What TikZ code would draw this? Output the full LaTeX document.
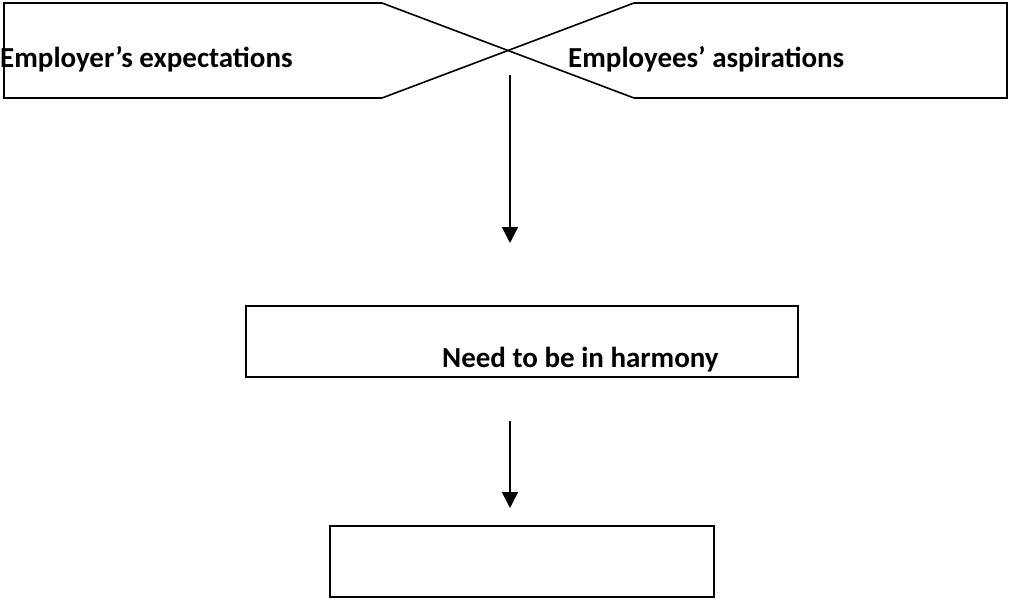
\documentclass[tikz,border=0pt]{standalone}
\usepackage{fontspec}
\setmainfont{Carlito}
\usetikzlibrary{arrows.meta}
\begin{document}
\begin{tikzpicture}[x=1pt,y=-1pt,
  outline/.style={draw=black,line width=1.6pt,line join=miter},
  label/.style={font=\bfseries\fontsize{29}{34}\selectfont,inner sep=0pt,anchor=base west},
  flowarrow/.style={draw=black,line width=1.6pt,-{Triangle[length=16pt,width=16pt]}}
]
\useasboundingbox (0,0) rectangle (1016,599);

% the two crossing banner shapes at the top
\coordinate (lt) at (382,3);
\coordinate (lb) at (382,98);
\coordinate (rt) at (634,3);
\coordinate (rb) at (634,98);
\draw[outline] (lt) -- (4,3) -- (4,98) -- (lb);
\draw[outline] (rt) -- (1007,3) -- (1007,98) -- (rb);
\draw[outline] (lt) -- (rb);
\draw[outline] (lb) -- (rt);
\node[label] (employer) at (0,68) {Employer’s expectations};
\node[label] (employees) at (568,68) {Employees’ aspirations};

% middle box
\node[outline,minimum width=552pt,minimum height=71pt,inner sep=0pt] (harmonybox) at (522,341.5) {};
\node[label] (harmony) at (442,367) {Need to be in harmony};

% bottom box
\node[outline,minimum width=384pt,minimum height=71pt,inner sep=0pt] (resultbox) at (522,561.5) {};

% connectors
\coordinate (a1s) at (510,75);
\coordinate (a1e) at (510,243);
\coordinate (a2s) at (510,421);
\coordinate (a2e) at (510,508);
\draw[flowarrow] (a1s) -- (a1e);
\draw[flowarrow] (a2s) -- (a2e);
\end{tikzpicture}
\end{document}
